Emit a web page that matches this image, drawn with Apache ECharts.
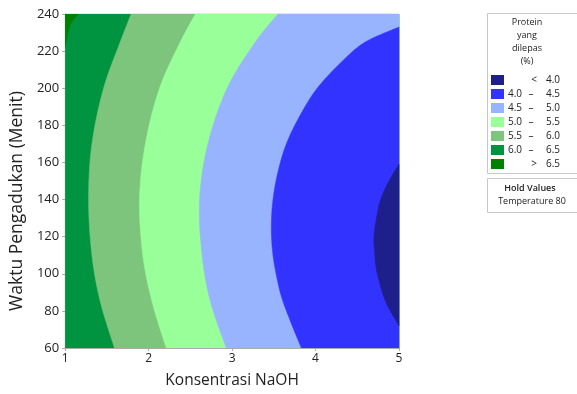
<!DOCTYPE html>
<html>
<head>
<meta charset="utf-8">
<script src="https://cdn.jsdelivr.net/npm/echarts@6/dist/echarts.min.js"></script>
<style>
html,body{margin:0;padding:0;background:#fff;}
#chart{width:577px;height:394px;}
</style>
</head>
<body>
<div id="chart"></div>
<script>
// ---- data ----
const xTicks = [1, 2, 3, 4, 5];
const yTicks = [60, 80, 100, 120, 140, 160, 180, 200, 220, 240];
const levelNames = ['< 4.0', '4.0 \u2013 4.5', '4.5 \u2013 5.0', '5.0 \u2013 5.5', '5.5 \u2013 6.0', '6.0 \u2013 6.5', '> 6.5'];
const levelColors = ['#1f1f8c', '#3333ff', '#99b4ff', '#99ff99', '#7dc47d', '#009440', '#008000'];

// contour boundaries: (Konsentrasi NaOH, Waktu) points, top to bottom
const b65Y = [240, 234, 222];
const b65X = [1.16, 1.06, 1.0];
const b60Y = [240, 225, 200, 170, 140, 110, 85, 60];
const b60X = [1.79, 1.66, 1.46, 1.32, 1.28, 1.32, 1.42, 1.59];
const b55Y = [240, 225, 200, 170, 140, 110, 85, 60];
const b55X = [2.56, 2.38, 2.13, 1.96, 1.89, 1.93, 2.04, 2.21];
const b50Y = [240, 225, 200, 170, 140, 110, 85, 60];
const b50X = [3.55, 3.28, 2.94, 2.71, 2.61, 2.64, 2.74, 2.93];
const b45Y = [233, 225, 215, 200, 185, 170, 155, 140, 125, 110, 95, 85, 72, 60];
const b45X = [5.0, 4.60, 4.33, 4.02, 3.81, 3.65, 3.55, 3.49, 3.47, 3.49, 3.55, 3.61, 3.72, 3.83];
const b40Y = [159, 150, 140, 130, 120, 110, 100, 85, 72];
const b40X = [5.0, 4.88, 4.78, 4.73, 4.70, 4.71, 4.74, 4.84, 5.0];

const xMin = 1, xMax = 5, yMin = 60, yMax = 240;

// regions drawn in order: [colorIndex, boundaryX, boundaryY, mode]
const regions = [
  [5, null, null, 'full'],
  [6, b65X, b65Y, 'corner'],
  [4, b60X, b60Y, 'right'],
  [3, b55X, b55Y, 'right'],
  [2, b50X, b50Y, 'right'],
  [1, b45X, b45Y, 'right'],
  [0, b40X, b40Y, 'right']
];

const chart = echarts.init(document.getElementById('chart'), null, {renderer: 'canvas'});
const FONT = 'Open Sans';

// smooth a pixel polyline (Catmull-Rom) for drawing
function smoothPixels(p) {
  if (p.length < 3) return p.slice();
  const out = [];
  const n = p.length;
  for (let i = 0; i < n - 1; i++) {
    const p0 = p[Math.max(0, i - 1)], p1 = p[i], p2 = p[i + 1], p3 = p[Math.min(n - 1, i + 2)];
    const steps = 12;
    for (let s = 0; s < steps; s++) {
      const t = s / steps, t2 = t * t, t3 = t2 * t;
      const f = (a, b, c, d) => 0.5 * ((2 * b) + (-a + c) * t + (2 * a - 5 * b + 4 * c - d) * t2 + (-a + 3 * b - 3 * c + d) * t3);
      out.push([f(p0[0], p1[0], p2[0], p3[0]), f(p0[1], p1[1], p2[1], p3[1])]);
    }
  }
  out.push(p[n - 1]);
  return out;
}

function renderItem(params, api) {
  const r = regions[api.value(2)];
  let pts = [];
  if (r[3] === 'full') {
    pts = [[xMin, yMin], [xMax, yMin], [xMax, yMax], [xMin, yMax]].map(p => api.coord(p));
  } else {
    const xs = r[1], ys = r[2];
    const curve = [];
    for (let i = 0; i < xs.length; i++) curve.push(api.coord([xs[i], ys[i]]));
    pts = smoothPixels(curve);
    if (r[3] === 'corner') {
      pts.push(api.coord([xMin, yMax]));
    } else {
      pts.push(api.coord([xMax, ys[ys.length - 1]]));
      pts.push(api.coord([xMax, ys[0]]));
    }
  }
  return {
    type: 'polygon',
    shape: {points: pts},
    style: {fill: levelColors[r[0]], stroke: levelColors[r[0]], lineWidth: 0.5}
  };
}

// legend graphics
const graphics = [];
const lgLeft = 487, lgTop = 13, lgW = 100, lgH = 160;
graphics.push({type: 'rect', shape: {x: lgLeft + 0.5, y: lgTop + 0.5, width: lgW, height: lgH}, style: {fill: '#fff', stroke: '#c8c8c8', lineWidth: 1}});
['Protein', 'yang', 'dilepas', '(%)'].forEach((t, i) => {
  graphics.push({type: 'text', x: 527, y: 22 + i * 13, style: {text: t, font: '9px "' + FONT + '"', fill: '#222', textAlign: 'center', textVerticalAlign: 'middle'}});
});
levelNames.forEach((name, i) => {
  const cy = 80 + i * 14;
  graphics.push({type: 'rect', shape: {x: 491, y: cy - 5, width: 13, height: 10}, style: {fill: levelColors[i]}});
  const parts = name.split(' ');
  const f = '10px "' + FONT + '"';
  if (parts.length === 2) {
    graphics.push({type: 'text', x: 534, y: cy, style: {text: parts[0], font: f, fill: '#222', textAlign: 'center', textVerticalAlign: 'middle'}});
    graphics.push({type: 'text', x: 560, y: cy, style: {text: parts[1], font: f, fill: '#222', textAlign: 'right', textVerticalAlign: 'middle'}});
  } else {
    graphics.push({type: 'text', x: 508, y: cy, style: {text: parts[0], font: f, fill: '#222', textAlign: 'left', textVerticalAlign: 'middle'}});
    graphics.push({type: 'text', x: 531, y: cy, style: {text: parts[1], font: f, fill: '#222', textAlign: 'center', textVerticalAlign: 'middle'}});
    graphics.push({type: 'text', x: 560, y: cy, style: {text: parts[2], font: f, fill: '#222', textAlign: 'right', textVerticalAlign: 'middle'}});
  }
});
graphics.push({type: 'rect', shape: {x: lgLeft + 0.5, y: 178.5, width: lgW, height: 34}, style: {fill: '#fff', stroke: '#c8c8c8', lineWidth: 1}});
graphics.push({type: 'text', x: 530, y: 188, style: {text: 'Hold Values', font: '600 9px "' + FONT + '"', fill: '#222', textAlign: 'center', textVerticalAlign: 'middle'}});
graphics.push({type: 'text', x: 532, y: 201, style: {text: 'Temperature 80', font: '9px "' + FONT + '"', fill: '#222', textAlign: 'center', textVerticalAlign: 'middle'}});

chart.setOption({
  animation: false,
  backgroundColor: '#fff',
  grid: {left: 65, right: 178, top: 14, bottom: 45, show: true, borderColor: '#d0d0d0', borderWidth: 1},
  xAxis: {
    type: 'value', min: xMin, max: xMax, interval: 1,
    name: 'Konsentrasi NaOH', nameLocation: 'middle', nameGap: 25,
    nameTextStyle: {fontFamily: FONT, fontSize: 15.5, color: '#222'},
    axisLine: {show: true, lineStyle: {color: '#aaa'}},
    axisTick: {show: true, length: 3, lineStyle: {color: '#aaa'}},
    axisLabel: {fontFamily: FONT, fontSize: 12, color: '#222', margin: 5, formatter: v => xTicks.indexOf(v) >= 0 ? String(v) : ''},
    splitLine: {show: false}
  },
  yAxis: {
    type: 'value', min: yMin, max: yMax, interval: 20,
    name: 'Waktu Pengadukan (Menit)', nameLocation: 'middle', nameGap: 31,
    nameTextStyle: {fontFamily: FONT, fontSize: 17.5, color: '#222', padding: [0, 40, 0, 0]},
    axisLine: {show: true, lineStyle: {color: '#aaa'}},
    axisTick: {show: true, length: 3, lineStyle: {color: '#aaa'}},
    axisLabel: {fontFamily: FONT, fontSize: 13, color: '#222', margin: 6, formatter: v => yTicks.indexOf(v) >= 0 ? String(v) : ''},
    splitLine: {show: false}
  },
  series: [{
    type: 'custom',
    renderItem: renderItem,
    clip: true,
    silent: true,
    data: regions.map((r, i) => [xMin, yMin, i]),
    encode: {x: 0, y: 1},
    z: 1
  }],
  graphic: graphics
});
</script>
</body>
</html>
